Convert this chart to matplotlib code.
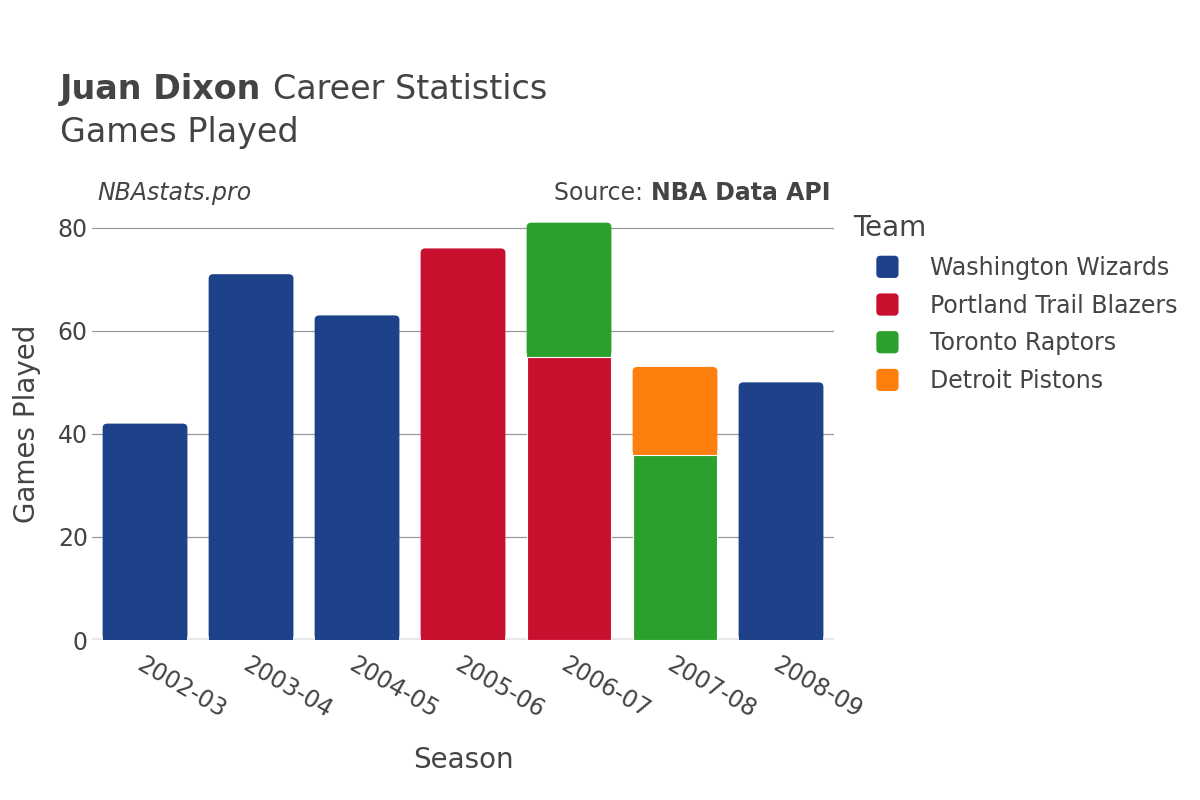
import numpy as np
import matplotlib
matplotlib.use("Agg")
import matplotlib.pyplot as plt
from matplotlib.patches import FancyBboxPatch, Rectangle, Patch
from matplotlib.legend_handler import HandlerPatch

# ── Data ─────────────────────────────────────────────────────────────────────
seasons = ["2002-03", "2003-04", "2004-05", "2005-06", "2006-07", "2007-08", "2008-09"]
teams = ["Washington Wizards", "Portland Trail Blazers", "Toronto Raptors", "Detroit Pistons"]
team_colors = ["#1D428A", "#C8102E", "#2CA02C", "#FF7F0E"]

wizards = [42, 71, 63, 0, 0, 0, 50]
blazers = [0, 0, 0, 76, 55, 0, 0]
raptors = [0, 0, 0, 0, 26, 36, 0]
pistons = [0, 0, 0, 0, 0, 17, 0]
games = [wizards, blazers, raptors, pistons]

yticks = [0, 20, 40, 60, 80]

TXT = "#444444"

fig = plt.figure(figsize=(12, 8), dpi=100)
ax = fig.add_axes([0.0767, 0.2, 0.6183, 0.541])

x = np.arange(len(seasons))
bottom = np.zeros(len(seasons))
total = np.sum(np.array(games, dtype=float), axis=0)
for vals, col in zip(games, team_colors):
    vals = np.array(vals, dtype=float)
    bars = ax.bar(x, vals, width=0.8, bottom=bottom, color=col,
                  edgecolor="white", linewidth=0.8, zorder=3)
    for i, rect in enumerate(bars.patches):
        if vals[i] <= 0:
            rect.set_visible(False)   # empty segment: no stray edge line
        elif np.isclose(bottom[i] + vals[i], total[i]):
            # round the top corners of the uppermost segment of each stack
            rx, ry = rect.get_x(), rect.get_y()
            rw, rh = rect.get_width(), rect.get_height()
            rect.set_visible(False)
            ax.add_patch(FancyBboxPatch((rx, ry), rw, rh,
                                        boxstyle="round,pad=0,rounding_size=0.045",
                                        mutation_aspect=19.0, facecolor=col,
                                        edgecolor="none", zorder=2.9))
            ax.add_patch(Rectangle((rx, ry), rw, rh / 2, facecolor=col,
                                   edgecolor="none", zorder=2.95))
    bottom += vals

ax.set_xlim(-0.5, len(seasons) - 0.5)
ax.set_ylim(0, 84)
ax.set_yticks(yticks)
ax.set_yticklabels([str(v) for v in yticks], fontsize=17, color=TXT)
ax.grid(axis="y", color="#999999", linewidth=0.9, zorder=0)
ax.axhline(0, color="#e8e8e8", linewidth=3, zorder=2)
for s in ax.spines.values():
    s.set_visible(False)
ax.tick_params(axis="both", length=0)
ax.tick_params(axis="y", pad=3)
ax.tick_params(axis="x", pad=9)

ax.set_xticks(x)
ax.set_xticklabels(seasons, rotation=-30, ha="left", va="top",
                   rotation_mode="anchor", fontsize=17, color=TXT)

ax.set_xlabel("Season", fontsize=20, color=TXT, labelpad=17)
ax.set_ylabel("Games Played", fontsize=20, color=TXT, labelpad=12)

# ── Titles / annotations ─────────────────────────────────────────────────────
fig.canvas.draw()
renderer = fig.canvas.get_renderer()
inv = fig.transFigure.inverted()


def place_after(t, txt, **kw):
    bb = t.get_window_extent(renderer)
    x0 = inv.transform((bb.x1, bb.y0))[0]
    return fig.text(x0, t.get_position()[1], txt, **kw)


t1 = fig.text(0.05, 0.876, "Juan Dixon ", fontsize=24, fontweight="bold",
              color=TXT, va="baseline")
place_after(t1, "Career Statistics", fontsize=24, color=TXT, va="baseline")
fig.text(0.05, 0.823, "Games Played", fontsize=24, color=TXT, va="baseline")

fig.text(0.081, 0.75, "NBAstats.pro", fontsize=17, style="italic", color=TXT,
         va="baseline")
t_api = fig.text(0.692, 0.75, "NBA Data API", fontsize=17, fontweight="bold",
                 color=TXT, va="baseline", ha="right")
bb = t_api.get_window_extent(renderer)
fig.text(inv.transform((bb.x0, bb.y0))[0], 0.75, "Source: ", fontsize=17,
         color=TXT, va="baseline", ha="right")


# ── Legend ───────────────────────────────────────────────────────────────────
class RoundedSquare(HandlerPatch):
    def create_artists(self, legend, orig_handle, xdescent, ydescent,
                       width, height, fontsize, trans):
        s = 16
        cx = -xdescent + width / 2
        cy = -ydescent + height / 2
        p = FancyBboxPatch((cx - s / 2, cy - s / 2), s, s,
                           boxstyle="round,pad=0,rounding_size=3",
                           facecolor=orig_handle.get_facecolor(),
                           edgecolor="none", transform=trans)
        return [p]


handles = [Patch(facecolor=c) for c in team_colors]
leg = fig.legend(handles, teams, title="Team", loc="upper left",
                 bbox_to_anchor=(0.711, 0.732), frameon=False, fontsize=17,
                 title_fontsize=20, labelspacing=0.58, handlelength=2.9,
                 handletextpad=0.35, borderaxespad=0, borderpad=0,
                 handler_map={Patch: RoundedSquare()})
leg._legend_box.align = "left"
for t in leg.get_texts():
    t.set_color(TXT)
leg.get_title().set_color(TXT)

fig.savefig("out.png", dpi=100)
